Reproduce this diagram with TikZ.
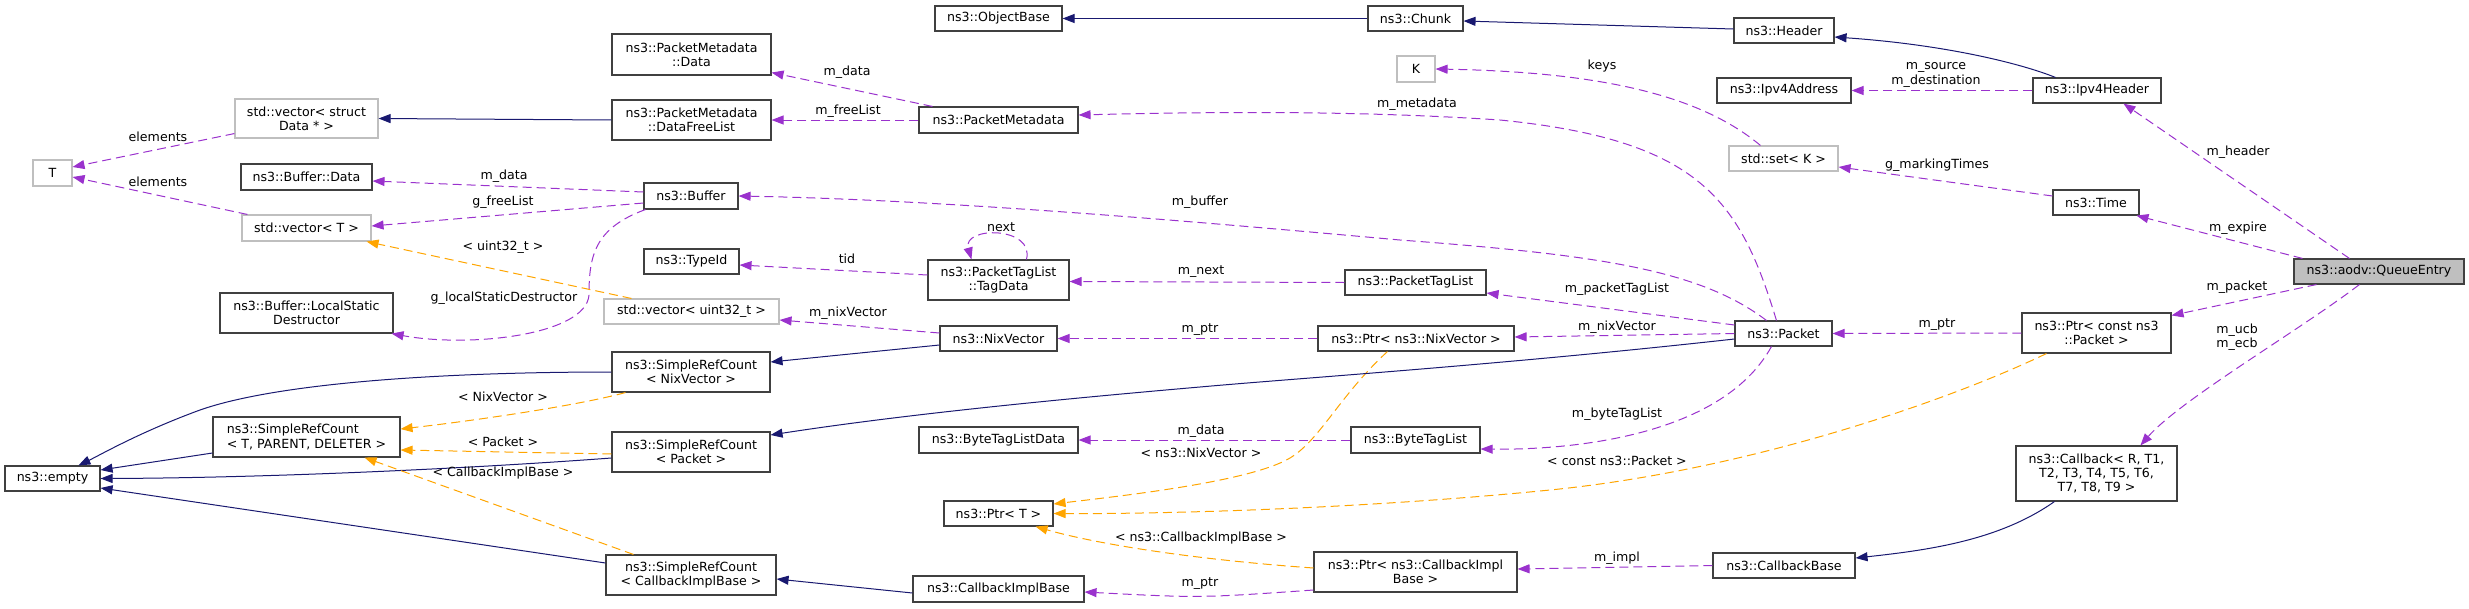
\documentclass[tikz,border=0pt]{standalone}
\usepackage{fontspec}
\setmainfont{DejaVu Sans}
\usetikzlibrary{arrows.meta}
\definecolor{usec}{HTML}{9A32CD}
\definecolor{tmplc}{HTML}{FFA500}
\definecolor{inhc}{HTML}{191970}
\newcommand\dgfont{\fontsize{12.6}{14.3}\selectfont}
\begin{document}
\begin{tikzpicture}[x=1pt,y=-1pt,
  box/.style={draw=black!75, line width=1.1pt, fill=white, inner sep=0pt, align=center, font=\dgfont},
  gbox/.style={box, draw=black!25},
  lbl/.style={inner sep=0pt, font=\dgfont, align=center},
  tip/.style={-{Triangle[length=12pt,width=9pt]}},
  use/.style={draw=usec, line width=1pt, dash pattern=on 9pt off 5pt, tip},
  tmpl/.style={draw=tmplc, line width=1pt, dash pattern=on 9pt off 5pt, tip},
  inh/.style={draw=inhc, line width=1pt, tip}]
\useasboundingbox (0,0) rectangle (2469,608);
% column 1
\node[gbox, minimum width=39pt, minimum height=26pt] (T) at (52.5,173) {T};
\node[gbox, minimum width=143pt, minimum height=39pt] (vecstruct) at (306.5,118.5) {std::vector< struct\\Data * >};
\node[box, minimum width=131pt, minimum height=26pt] (bufdata) at (306.5,177) {ns3::Buffer::Data};
\node[gbox, minimum width=129pt, minimum height=26pt] (vecT) at (306.5,228) {std::vector< T >};
\node[box, minimum width=173pt, minimum height=40pt] (localstatic) at (306.5,313) {ns3::Buffer::LocalStatic\\Destructor};
\node[box, minimum width=187pt, minimum height=40pt, align=left] (srctpd) at (306.5,437) {ns3::SimpleRefCount\\< T, PARENT, DELETER >};
\node[box, minimum width=95pt, minimum height=25pt] (empty) at (52.5,478.5) {ns3::empty};
% column 2
\node[box, minimum width=159pt, minimum height=41pt] (pmdata) at (691.5,54.5) {ns3::PacketMetadata\\::Data};
\node[box, minimum width=159pt, minimum height=40pt] (dfl) at (691.5,120) {ns3::PacketMetadata\\::DataFreeList};
\node[box, minimum width=94pt, minimum height=26pt] (buffer) at (691,196) {ns3::Buffer};
\node[box, minimum width=95pt, minimum height=25pt] (typeid) at (691.5,261.5) {ns3::TypeId};
\node[gbox, minimum width=175pt, minimum height=25pt] (vecu32) at (691.5,311.5) {std::vector< uint32\_t >};
\node[box, minimum width=158pt, minimum height=40pt] (srcnv) at (691,372) {ns3::SimpleRefCount\\< NixVector >};
\node[box, minimum width=158pt, minimum height=40pt] (srcp) at (691,452) {ns3::SimpleRefCount\\< Packet >};
\node[box, minimum width=170pt, minimum height=40pt] (srccib) at (691,575) {ns3::SimpleRefCount\\< CallbackImplBase >};
% column 3
\node[box, minimum width=127pt, minimum height=25pt] (objbase) at (998.5,18.5) {ns3::ObjectBase};
\node[box, minimum width=159pt, minimum height=26pt] (pm) at (998.5,120) {ns3::PacketMetadata};
\node[box, minimum width=141pt, minimum height=40pt] (tagdata) at (998.5,280) {ns3::PacketTagList\\::TagData};
\node[box, minimum width=117pt, minimum height=25pt] (nixvec) at (998.5,338.5) {ns3::NixVector};
\node[box, minimum width=159pt, minimum height=26pt] (btld) at (998.5,440) {ns3::ByteTagListData};
\node[box, minimum width=109pt, minimum height=25pt] (ptrT) at (998.5,513.5) {ns3::Ptr< T >};
\node[box, minimum width=171pt, minimum height=26pt] (cib) at (998.5,589) {ns3::CallbackImplBase};
% column 4
\node[box, minimum width=95pt, minimum height=25pt] (chunk) at (1415.5,18.5) {ns3::Chunk};
\node[gbox, minimum width=38pt, minimum height=26pt] (K) at (1416,69) {K};
\node[box, minimum width=141pt, minimum height=25pt] (ptl) at (1415.5,282.5) {ns3::PacketTagList};
\node[box, minimum width=196pt, minimum height=25pt] (ptrnv) at (1416,338.5) {ns3::Ptr< ns3::NixVector >};
\node[box, minimum width=129pt, minimum height=26pt] (btl) at (1415.5,440) {ns3::ByteTagList};
\node[box, minimum width=203pt, minimum height=40pt] (ptrcib) at (1415.5,572) {ns3::Ptr< ns3::CallbackImpl\\Base >};
% column 5
\node[box, minimum width=100pt, minimum height=25pt] (header) at (1784,30.5) {ns3::Header};
\node[box, minimum width=134pt, minimum height=25pt] (ipv4addr) at (1784,90.5) {ns3::Ipv4Address};
\node[gbox, minimum width=109pt, minimum height=25pt] (setK) at (1783.5,158.5) {std::set< K >};
\node[box, minimum width=97pt, minimum height=25pt] (packet) at (1783.5,333.5) {ns3::Packet};
\node[box, minimum width=142pt, minimum height=25pt] (cbbase) at (1784,565.5) {ns3::CallbackBase};
% column 6
\node[box, minimum width=128pt, minimum height=25pt] (ipv4hdr) at (2097,90.5) {ns3::Ipv4Header};
\node[box, minimum width=86pt, minimum height=25pt] (time) at (2096,202.5) {ns3::Time};
\node[box, minimum width=149pt, minimum height=40pt] (ptrcp) at (2096.5,333) {ns3::Ptr< const ns3\\::Packet >};
\node[box, minimum width=161pt, minimum height=55pt] (callback) at (2096.5,473.5) {ns3::Callback< R, T1,\\T2, T3, T4, T5, T6,\hspace*{14pt}\\T7, T8, T9 >};
% column 7
\node[box, fill=black!25, minimum width=170pt, minimum height=25pt] (qe) at (2379,271.5) {ns3::aodv::QueueEntry};

% ---- edges ----
\draw[use] ([yshift=5pt]vecstruct.south west) -- ([yshift=6pt]T.east);
\draw[use] ([xshift=6pt]vecT.north west) -- ([yshift=-4pt]T.east);
\draw[inh] (dfl.west) -- (vecstruct.east);
\draw[use] ([yshift=4pt]buffer.west) -- ([yshift=-4pt]bufdata.east);
\draw[use] ([yshift=-7pt]buffer.west) -- ([yshift=2pt]vecT.east);
\draw[use] ([xshift=2pt]buffer.south west) .. controls (595,228) and (589,255) .. (589,295)
  .. controls (586,335) and (470,348) .. ([xshift=-2pt]localstatic.south east);
\draw[tmpl] ([xshift=28pt]vecu32.north west) -- ([xshift=-5pt]vecT.south east);
\draw[use] ([xshift=14pt]pm.north west) -- ([yshift=3pt]pmdata.south east);
\draw[use] (pm.west) -- (dfl.east);
\draw[inh] (chunk.west) -- (objbase.east);
\draw[inh] ([yshift=1.5pt]header.west) -- ([yshift=-2.5pt]chunk.east);
\draw[inh] ([xshift=23pt]ipv4hdr.north west) .. controls (2025,65) and (1950,45) .. ([yshift=-6.5pt]header.east);
\draw[use] (ipv4hdr.west) -- (ipv4addr.east);
\draw[use] ([xshift=32pt]setK.north west) .. controls (1700,95) and (1600,72) .. (K.east);
\draw[use] ([yshift=6.5pt]time.west) -- ([yshift=-8.5pt]setK.east);
\draw[use] ([xshift=56pt]qe.north west) -- ([xshift=91pt]ipv4hdr.south west);
\draw[use] ([xshift=9pt]qe.north west) -- ([xshift=84pt]time.south west);
\draw[use] ([xshift=23pt]qe.south west) -- ([yshift=-3pt]ptrcp.north east);
\draw[use] ([xshift=66pt]qe.south west) .. controls (2300,330) and (2180,400) .. ([xshift=125pt]callback.north west);
\draw[use] (ptrcp.west) -- (packet.east);
\draw[tmpl] ([xshift=25pt]ptrcp.south west) .. controls (1950,400) and (1750,470) .. (1550,490)
  .. controls (1350,510) and (1150,514) .. (ptrT.east);
\draw[tmpl] ([xshift=70pt]ptrnv.south west) .. controls (1340,395) and (1320,440) .. (1290,458)
  .. controls (1250,482) and (1120,496) .. ([yshift=9.5pt]ptrT.east);
\draw[tmpl] ([yshift=4pt]ptrcib.west) .. controls (1200,560) and (1100,545) .. ([xshift=-18pt]ptrT.south east);
\draw[use] ([yshift=-18pt]ptrcib.west) .. controls (1200,598) .. ([yshift=-3pt]cib.east);
\draw[use] (cbbase.west) -- ([yshift=3pt]ptrcib.east);
\draw[inh] ([xshift=39pt]callback.south west) .. controls (2000,540) and (1930,550) .. ([yshift=7.5pt]cbbase.east);
\draw[inh] ([yshift=-4pt]cib.west) -- ([yshift=-4pt]srccib.east);
\draw[inh] ([yshift=12pt]srccib.west) -- ([yshift=-9.5pt]empty.east);
\draw[inh] (srcnv.west) .. controls (450,372) and (280,382) .. (200,410)
  .. controls (140,432) and (100,455) .. ([xshift=74pt]empty.north west);
\draw[inh] ([yshift=-6pt]srcp.west) .. controls (450,470) and (250,478) .. (empty.east);
\draw[inh] ([yshift=-16pt]srctpd.west) -- ([yshift=8.5pt]empty.east);
\draw[inh] ([yshift=-6.5pt]nixvec.west) -- ([yshift=10pt]srcnv.east);
\draw[inh] ([yshift=-5.5pt]packet.west) .. controls (1500,365) and (1300,378) .. (1200,387)
  .. controls (1050,400) and (900,415) .. ([yshift=17pt]srcp.east);
\draw[tmpl] ([xshift=14pt]srcnv.south west) .. controls (580,405) and (480,420) .. ([yshift=8pt]srctpd.east);
\draw[tmpl] ([yshift=-2pt]srcp.west) -- ([yshift=-13pt]srctpd.east);
\draw[tmpl] ([xshift=28pt]srccib.north west) -- ([xshift=-36pt]srctpd.south east);
\draw[use] ([yshift=5.5pt]nixvec.west) -- ([yshift=-8.5pt]vecu32.east);
\draw[use] (ptrnv.west) -- (nixvec.east);
\draw[use] (packet.west) -- ([yshift=1.5pt]ptrnv.east);
\draw[use] ([yshift=8.5pt]packet.west) -- ([yshift=-10.5pt]ptl.east);
\draw[use] (ptl.west) -- ([yshift=-1.5pt]tagdata.east);
\draw[use] ([xshift=99pt]tagdata.north west) .. controls (1035,226) and (962,226) .. ([xshift=44pt]tagdata.north west);
\draw[use] ([yshift=5pt]tagdata.west) -- ([yshift=-3.5pt]typeid.east);
\draw[use] (btl.west) -- (btld.east);
\draw[use] ([xshift=37pt]packet.south west) .. controls (1720,440) and (1560,450) .. ([yshift=-9pt]btl.east);
\draw[use] ([xshift=32pt]packet.north west) .. controls (1700,270) and (1600,255) .. (1400,240)
  .. controls (1200,222) and (950,200) .. (buffer.east);
\draw[use] ([xshift=42pt]packet.north west) .. controls (1740,200) and (1700,140) .. (1500,120)
  .. controls (1350,110) and (1200,112) .. ([yshift=5pt]pm.east);

% ---- labels ----
\node[lbl] (l1) at (158,137) {elements};
\node[lbl] (l2) at (158,182) {elements};
\node[lbl] (l3) at (504,176) {m\_data};
\node[lbl] (l4) at (503,202) {g\_freeList};
\node[lbl] (l5) at (503,247) {< uint32\_t >};
\node[lbl] (l6) at (504,298) {g\_localStaticDestructor};
\node[lbl] (l7) at (847,72) {m\_data};
\node[lbl] (l8) at (848,111) {m\_freeList};
\node[lbl] (l9) at (1417,104) {m\_metadata};
\node[lbl] (l10) at (1602,66) {keys};
\node[lbl] (l11) at (1936,75) {m\_source\\m\_destination};
\node[lbl] (l12) at (1937,165) {g\_markingTimes};
\node[lbl] (l13) at (2238,152) {m\_header};
\node[lbl] (l14) at (2238,228) {m\_expire};
\node[lbl] (l15) at (2237,287) {m\_packet};
\node[lbl] (l16) at (2237,337) {m\_ucb\\m\_ecb};
\node[lbl] (l17) at (1200,202) {m\_buffer};
\node[lbl] (l18) at (1001,227) {next};
\node[lbl] (l19) at (847,259) {tid};
\node[lbl] (l20) at (1201,272) {m\_next};
\node[lbl] (l21) at (1617,289) {m\_packetTagList};
\node[lbl] (l22) at (848,313) {m\_nixVector};
\node[lbl] (l23) at (1200,330) {m\_ptr};
\node[lbl] (l24) at (1617,327) {m\_nixVector};
\node[lbl] (l25) at (1937,325) {m\_ptr};
\node[lbl] (l26) at (503,397) {< NixVector >};
\node[lbl] (l27) at (503,442) {< Packet >};
\node[lbl] (l28) at (503,473) {< CallbackImplBase >};
\node[lbl] (l29) at (1201,431) {m\_data};
\node[lbl] (l30) at (1201,453) {< ns3::NixVector >};
\node[lbl] (l31) at (1617,414) {m\_byteTagList};
\node[lbl] (l32) at (1617,461) {< const ns3::Packet >};
\node[lbl] (l33) at (1201,538) {< ns3::CallbackImplBase >};
\node[lbl] (l34) at (1617,558) {m\_impl};
\node[lbl] (l35) at (1200,584) {m\_ptr};
\end{tikzpicture}
\end{document}
